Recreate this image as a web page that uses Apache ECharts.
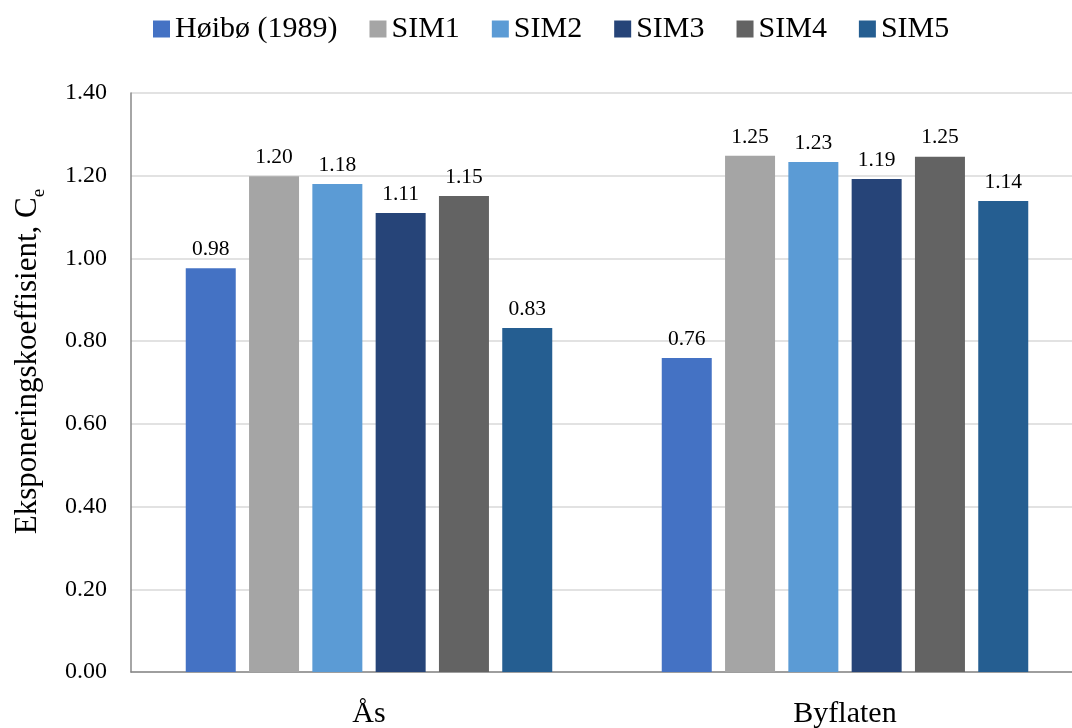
<!DOCTYPE html>
<html>
<head>
<meta charset="utf-8">
<script src="https://cdn.jsdelivr.net/npm/echarts@6/dist/echarts.min.js"></script>
<style>
html,body{margin:0;padding:0;background:#fff;}
#chart{width:1072px;height:728px;}
</style>
</head>
<body>
<div id="chart"></div>
<script>
const categories = ['Ås', 'Byflaten'];
const seriesNames = ['Høibø (1989)', 'SIM1', 'SIM2', 'SIM3', 'SIM4', 'SIM5'];
const hoibo = [0.976, 0.759];
const sim1 = [1.199, 1.248];
const sim2 = [1.180, 1.233];
const sim3 = [1.110, 1.192];
const sim4 = [1.151, 1.246];
const sim5 = [0.832, 1.139];
const yTicks = [0, 0.2, 0.4, 0.6, 0.8, 1.0, 1.2, 1.4];

const colors = ['#4472C4', '#A5A5A5', '#5B9BD5', '#264478', '#636363', '#255E91'];
const allValues = [hoibo, sim1, sim2, sim3, sim4, sim5];
const FONT = '"Liberation Serif", "DejaVu Serif", serif';

const chart = echarts.init(document.getElementById('chart'));
chart.setOption({
  animation: false,
  textStyle: { fontFamily: FONT, color: '#000' },
  color: colors,
  legend: {
    left: 148,
    top: 9,
    itemWidth: 17,
    itemHeight: 17,
    itemGap: 32,
    icon: 'rect',
    textStyle: { fontFamily: FONT, fontSize: 30, color: '#000' },
    data: seriesNames
  },
  grid: { left: 131, width: 952, top: 93, bottom: 56, containLabel: false, outerBoundsMode: 'none' },
  xAxis: {
    type: 'category',
    data: categories,
    axisLine: { lineStyle: { color: '#888888', width: 1.5 } },
    axisTick: { show: false },
    axisLabel: { fontFamily: FONT, fontSize: 30, color: '#000', margin: 27 }
  },
  yAxis: {
    type: 'value',
    min: yTicks[0],
    max: yTicks[yTicks.length - 1],
    interval: 0.2,
    axisLine: { show: true, lineStyle: { color: '#888888', width: 1.5 } },
    axisTick: { show: false },
    splitLine: { lineStyle: { color: '#D9D9D9', width: 1.5 } },
    axisLabel: {
      fontFamily: FONT, fontSize: 24, color: '#000', margin: 24,
      formatter: v => v.toFixed(2)
    },
    name: '{a|Eksponeringskoeffisient, C}{sub|e}',
    nameLocation: 'middle',
    nameRotate: 90,
    nameGap: 82,
    nameTextStyle: {
      padding: [0, 0, 0, 42],
      rich: {
        a: { fontFamily: FONT, fontSize: 31, color: '#000', lineHeight: 42, verticalAlign: 'middle' },
        sub: { fontFamily: FONT, fontSize: 19, color: '#000', lineHeight: 19, verticalAlign: 'bottom' }
      }
    }
  },
  series: seriesNames.map((name, i) => ({
    name: name,
    type: 'bar',
    data: allValues[i],
    barWidth: 50,
    barGap: '26.6%',
    itemStyle: { color: colors[i] },
    label: {
      show: true,
      position: 'top',
      distance: 8,
      fontFamily: FONT,
      fontSize: 21.5,
      color: '#000',
      formatter: p => p.value.toFixed(2)
    }
  }))
});
</script>
</body>
</html>
